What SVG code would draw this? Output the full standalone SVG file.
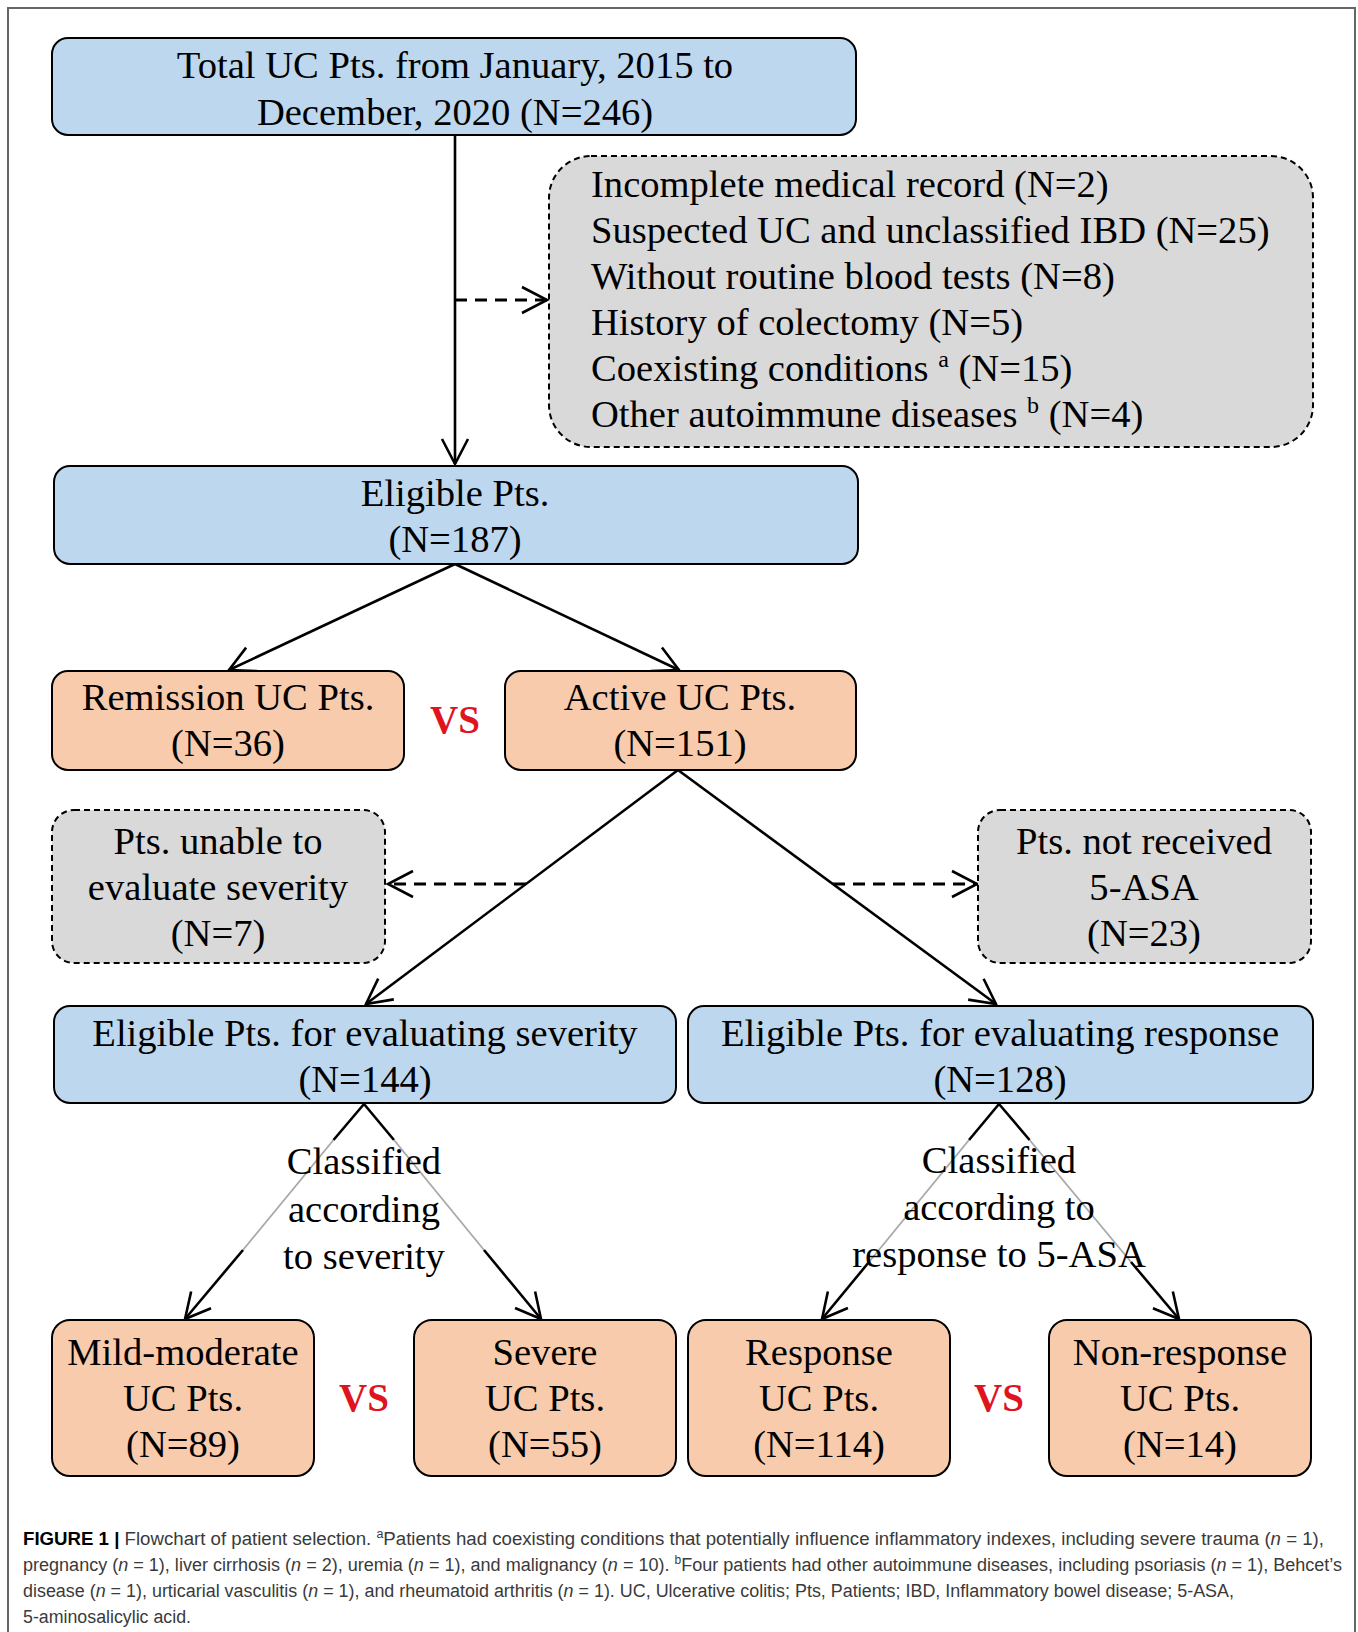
<svg xmlns="http://www.w3.org/2000/svg" width="1358" height="1632" viewBox="0 0 1358 1632">
<style>
.t{font-family:"Liberation Serif","Times New Roman",serif;font-size:38.6px;fill:#000;text-anchor:middle}
.tl{font-family:"Liberation Serif","Times New Roman",serif;font-size:38.6px;fill:#000}
.blue{fill:#bdd7ee;stroke:#000;stroke-width:2}
.org{fill:#f8cbad;stroke:#000;stroke-width:2}
.gray{fill:#d9d9d9;stroke:#000;stroke-width:2;stroke-dasharray:6 4}
.ln{stroke:#000;stroke-width:2.6;fill:none}
.dl{stroke:#000;stroke-width:2.8;fill:none;stroke-dasharray:12 8}
.gl{stroke:#a8a8a8;stroke-width:1.8;fill:none}
.vs{font-family:"Liberation Serif","Times New Roman",serif;font-size:39px;font-weight:bold;fill:#e0141e;text-anchor:middle}
.cap{font-family:"Liberation Sans",Arial,sans-serif;font-size:18px;fill:#3a3a3a}
</style>
<defs>
<marker id="ah" viewBox="0 0 30 30" refX="27" refY="15" markerWidth="30" markerHeight="30" markerUnits="userSpaceOnUse" orient="auto">
<path d="M2,2 L27,15 L2,28" fill="none" stroke="#000" stroke-width="2.6"/>
</marker>
</defs>
<rect x="8" y="8" width="1347" height="1640" fill="#fff" stroke="#666" stroke-width="2"/>

<g id="connectors">
<line class="ln" x1="455" y1="135" x2="455" y2="464" marker-end="url(#ah)"/>
<line class="dl" x1="455" y1="300" x2="547" y2="300" marker-end="url(#ah)"/>
<line class="ln" x1="455" y1="564" x2="229" y2="670" marker-end="url(#ah)"/>
<line class="ln" x1="455" y1="564" x2="679" y2="670" marker-end="url(#ah)"/>
<line class="ln" x1="678" y1="770" x2="366" y2="1004" marker-end="url(#ah)"/>
<line class="ln" x1="678" y1="770" x2="996" y2="1004" marker-end="url(#ah)"/>
<line class="dl" x1="526" y1="884" x2="388" y2="884" marker-end="url(#ah)"/>
<line class="dl" x1="833" y1="884" x2="977" y2="884" marker-end="url(#ah)"/>
<line class="ln" x1="364" y1="1104" x2="333.5" y2="1140"/>
<line class="gl" x1="333.5" y1="1140" x2="243" y2="1250"/>
<line class="ln" x1="243" y1="1250" x2="185" y2="1319" marker-end="url(#ah)"/>
<line class="ln" x1="364" y1="1104" x2="394" y2="1140"/>
<line class="gl" x1="394" y1="1140" x2="484" y2="1250"/>
<line class="ln" x1="484" y1="1250" x2="541" y2="1319" marker-end="url(#ah)"/>
<line class="ln" x1="999" y1="1104" x2="969" y2="1140"/>
<line class="gl" x1="969" y1="1140" x2="869" y2="1262"/>
<line class="ln" x1="869" y1="1262" x2="822" y2="1319" marker-end="url(#ah)"/>
<line class="ln" x1="999" y1="1104" x2="1029.6" y2="1140"/>
<line class="gl" x1="1029.6" y1="1140" x2="1131" y2="1262"/>
<line class="ln" x1="1131" y1="1262" x2="1179" y2="1319" marker-end="url(#ah)"/>
</g>

<g id="total">
<rect class="blue" x="52" y="38" width="804" height="97" rx="16"/>
<text class="t" x="455" y="78">Total UC Pts. from January, 2015 to</text>
<text class="t" x="455" y="125">December, 2020 (N=246)</text>
</g>

<g id="excluded">
<rect class="gray" x="549" y="156" width="764" height="291" rx="42"/>
<text class="tl" x="591" y="197">Incomplete medical record (N=2)</text>
<text class="tl" x="591" y="243">Suspected UC and unclassified IBD (N=25)</text>
<text class="tl" x="591" y="289">Without routine blood tests (N=8)</text>
<text class="tl" x="591" y="335">History of colectomy (N=5)</text>
<text class="tl" x="591" y="381">Coexisting conditions <tspan font-size="24" dy="-14">a</tspan><tspan dy="14"> (N=15)</tspan></text>
<text class="tl" x="591" y="427">Other autoimmune diseases <tspan font-size="24" dy="-14">b</tspan><tspan dy="14"> (N=4)</tspan></text>
</g>

<g id="eligible">
<rect class="blue" x="54" y="466" width="804" height="98" rx="16"/>
<text class="t" x="455" y="506">Eligible Pts.</text>
<text class="t" x="455" y="552">(N=187)</text>
</g>

<g id="remission">
<rect class="org" x="52" y="671" width="352" height="99" rx="16"/>
<text class="t" x="228" y="710">Remission UC Pts.</text>
<text class="t" x="228" y="756">(N=36)</text>
</g>

<g id="vs1"><text class="vs" x="455" y="733">VS</text></g>

<g id="active">
<rect class="org" x="505" y="671" width="351" height="99" rx="16"/>
<text class="t" x="680" y="710">Active UC Pts.</text>
<text class="t" x="680" y="756">(N=151)</text>
</g>

<g id="unable">
<rect class="gray" x="52" y="810" width="333" height="153" rx="22"/>
<text class="t" x="218" y="854">Pts. unable to</text>
<text class="t" x="218" y="900">evaluate severity</text>
<text class="t" x="218" y="946">(N=7)</text>
</g>

<g id="notreceived">
<rect class="gray" x="978" y="810" width="333" height="153" rx="22"/>
<text class="t" x="1144" y="854">Pts. not received</text>
<text class="t" x="1144" y="900">5-ASA</text>
<text class="t" x="1144" y="946">(N=23)</text>
</g>

<g id="eligsev">
<rect class="blue" x="54" y="1006" width="622" height="97" rx="16"/>
<text class="t" x="365" y="1046">Eligible Pts. for evaluating severity</text>
<text class="t" x="365" y="1092">(N=144)</text>
</g>

<g id="eligresp">
<rect class="blue" x="688" y="1006" width="625" height="97" rx="16"/>
<text class="t" x="1000" y="1046">Eligible Pts. for evaluating response</text>
<text class="t" x="1000" y="1092">(N=128)</text>
</g>

<g id="label-severity">
<text class="t" x="364" y="1174">Classified</text>
<text class="t" x="364" y="1222">according</text>
<text class="t" x="364" y="1269">to severity</text>
</g>

<g id="label-response">
<text class="t" x="999" y="1173">Classified</text>
<text class="t" x="999" y="1220">according to</text>
<text class="t" x="999" y="1267">response to 5-ASA</text>
</g>

<g id="mild">
<rect class="org" x="52" y="1320" width="262" height="156" rx="18"/>
<text class="t" x="183" y="1365">Mild-moderate</text>
<text class="t" x="183" y="1411">UC Pts.</text>
<text class="t" x="183" y="1457">(N=89)</text>
</g>

<g id="vs2"><text class="vs" x="364" y="1411">VS</text></g>

<g id="severe">
<rect class="org" x="414" y="1320" width="262" height="156" rx="18"/>
<text class="t" x="545" y="1365">Severe</text>
<text class="t" x="545" y="1411">UC Pts.</text>
<text class="t" x="545" y="1457">(N=55)</text>
</g>

<g id="response">
<rect class="org" x="688" y="1320" width="262" height="156" rx="18"/>
<text class="t" x="819" y="1365">Response</text>
<text class="t" x="819" y="1411">UC Pts.</text>
<text class="t" x="819" y="1457">(N=114)</text>
</g>

<g id="vs3"><text class="vs" x="999" y="1411">VS</text></g>

<g id="nonresponse">
<rect class="org" x="1049" y="1320" width="262" height="156" rx="18"/>
<text class="t" x="1180" y="1365">Non-response</text>
<text class="t" x="1180" y="1411">UC Pts.</text>
<text class="t" x="1180" y="1457">(N=14)</text>
</g>

<g id="caption">
<text class="cap" x="23" y="1545" textLength="1301" lengthAdjust="spacingAndGlyphs"><tspan font-weight="bold" fill="#000">FIGURE 1 |</tspan> Flowchart of patient selection. <tspan font-size="12" baseline-shift="super">a</tspan>Patients had coexisting conditions that potentially influence inflammatory indexes, including severe trauma (<tspan font-style="italic">n</tspan> = 1),</text>
<text class="cap" x="23" y="1571" textLength="1319" lengthAdjust="spacingAndGlyphs">pregnancy (<tspan font-style="italic">n</tspan> = 1), liver cirrhosis (<tspan font-style="italic">n</tspan> = 2), uremia (<tspan font-style="italic">n</tspan> = 1), and malignancy (<tspan font-style="italic">n</tspan> = 10). <tspan font-size="12" baseline-shift="super">b</tspan>Four patients had other autoimmune diseases, including psoriasis (<tspan font-style="italic">n</tspan> = 1), Behcet’s</text>
<text class="cap" x="23" y="1597" textLength="1211" lengthAdjust="spacingAndGlyphs">disease (<tspan font-style="italic">n</tspan> = 1), urticarial vasculitis (<tspan font-style="italic">n</tspan> = 1), and rheumatoid arthritis (<tspan font-style="italic">n</tspan> = 1). UC, Ulcerative colitis; Pts, Patients; IBD, Inflammatory bowel disease; 5-ASA,</text>
<text class="cap" x="23" y="1623" textLength="168" lengthAdjust="spacingAndGlyphs">5-aminosalicylic acid.</text>
</g>
</svg>
